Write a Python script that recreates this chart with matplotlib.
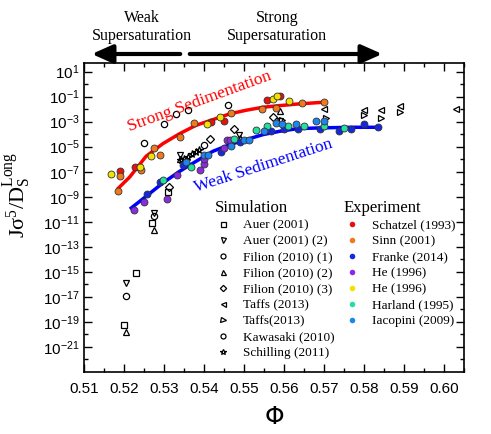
import matplotlib
matplotlib.use('Agg')
import matplotlib.pyplot as plt
import numpy as np
from matplotlib.ticker import MultipleLocator, FixedLocator, FuncFormatter, NullFormatter
from matplotlib.lines import Line2D

# ---- data: volume fraction phi and log10 of the scaled nucleation rate ----
# experiments
schatzel_phi = [0.5188, 0.5227, 0.5417, 0.5448, 0.5556, 0.5588]
schatzel_lj = [-6.97, -6.63, -3.05, -2.97, -1.24, -0.97]
sinn_phi = [0.5188, 0.5185, 0.5242, 0.5275, 0.5288, 0.5338, 0.5373, 0.5467, 0.5544, 0.5579, 0.5643, 0.5698]
sinn_lj = [-7.37, -8.57, -6.84, -5.10, -5.67, -4.25, -3.10, -2.31, -1.96, -1.90, -1.53, -1.45]
franke_phi = [0.5257, 0.5288, 0.5346, 0.5442, 0.5488, 0.5567, 0.5598, 0.5633, 0.5688, 0.5736, 0.5767, 0.5800, 0.5833]
franke_lj = [-8.76, -7.85, -6.44, -5.45, -4.65, -3.72, -3.59, -3.59, -3.59, -3.77, -3.56, -3.16, -3.45]
he_p_phi = [0.5223, 0.5250, 0.5306, 0.5331, 0.5388, 0.5398, 0.5398, 0.5448, 0.5456, 0.5463]
he_p_lj = [-10.09, -9.45, -9.19, -7.24, -6.89, -6.36, -5.99, -5.11, -4.49, -4.49]
he_y_phi = [0.5167, 0.5238, 0.5267, 0.5407, 0.5439, 0.5571, 0.5581, 0.5611]
he_y_lj = [-7.19, -6.65, -5.72, -3.21, -2.63, -1.19, -0.92, -1.35]
harland_phi = [0.5296, 0.5367, 0.5475, 0.5529, 0.5557, 0.5608, 0.5648, 0.5698, 0.5750]
harland_lj = [-7.69, -6.63, -4.36, -3.69, -3.37, -3.37, -3.37, -3.37, -3.50]
iacopini_phi = [0.5353, 0.5400, 0.5410, 0.5467, 0.5500, 0.5511, 0.5548, 0.5579, 0.5595, 0.5629, 0.5679, 0.5698]
iacopini_lj = [-6.25, -5.64, -5.64, -4.92, -4.44, -4.44, -3.77, -3.11, -3.20, -3.16, -2.97, -2.97]

# simulations
auer_phi = [0.5198, 0.5229, 0.5268, 0.5308]
auer_lj = [-19.24, -15.10, -11.10, -8.65]
auer2_phi = [0.5204, 0.5273, 0.5339, 0.5486, 0.5588]
auer2_lj = [-15.90, -10.30, -5.64, -4.05, -2.97]
filion1_phi = [0.5203, 0.5273]
filion1_lj = [-16.97, -10.50]
filion2_phi = [0.5204, 0.5274, 0.5338, 0.5488, 0.5588]
filion2_lj = [-19.77, -11.64, -5.95, -4.30, -2.17]
filion3_phi = [0.5311, 0.5413, 0.5475, 0.5571]
filion3_lj = [-8.25, -4.39, -3.56, -2.63]
taffs_l_phi = [0.5698, 0.5798, 0.5842, 0.5890, 0.6029]
taffs_l_lj = [-1.99, -2.04, -2.04, -1.77, -1.99]
taffs_r_phi = [0.5594, 0.5703, 0.5798, 0.5842, 0.5890]
taffs_r_lj = [-2.84, -2.71, -2.44, -2.71, -2.25]
kawasaki_phi = [0.5248, 0.5298, 0.5329, 0.5358, 0.5458, 0.5398]
kawasaki_lj = [-4.71, -3.19, -2.36, -2.04, -1.64, -4.84]
schilling_phi = [0.5342, 0.5350, 0.5360, 0.5370, 0.5378, 0.5386]
schilling_lj = [-6.10, -5.95, -5.80, -5.60, -5.45, -5.30]

# guide curves
strong_phi = [0.5185, 0.5213, 0.5254, 0.5296, 0.5338, 0.5379, 0.5421, 0.5463, 0.5504, 0.5546, 0.5588, 0.5633, 0.5698]
strong_lj = [-8.31, -7.43, -5.77, -4.76, -3.96, -3.29, -2.84, -2.38, -2.09, -1.85, -1.72, -1.59, -1.45]
weak_phi = [0.5217, 0.5254, 0.5296, 0.5338, 0.5379, 0.5421, 0.5463, 0.5504, 0.5546, 0.5588, 0.5633, 0.5688, 0.5771, 0.5833]
weak_lj = [-9.90, -8.97, -7.90, -6.97, -6.17, -5.37, -4.84, -4.44, -4.04, -3.77, -3.56, -3.50, -3.45, -3.45]

experiments = [
    ('Schatzel (1993)', schatzel_phi, schatzel_lj, '#e81010'),
    ('Sinn (2001)', sinn_phi, sinn_lj, '#f07a1a'),
    ('Franke (2014)', franke_phi, franke_lj, '#1428e0'),
    ('He (1996)', he_p_phi, he_p_lj, '#8a2be2'),
    ('He (1996)', he_y_phi, he_y_lj, '#f2e200'),
    ('Harland (1995)', harland_phi, harland_lj, '#22e0a0'),
    ('Iacopini (2009)', iacopini_phi, iacopini_lj, '#1c86ee'),
]
simulations = [
    ('Auer (2001)', auer_phi, auer_lj, 's'),
    ('Auer (2001) (2)', auer2_phi, auer2_lj, 'v'),
    ('Filion (2010) (1)', filion1_phi, filion1_lj, 'o'),
    ('Filion (2010) (2)', filion2_phi, filion2_lj, '^'),
    ('Filion (2010) (3)', filion3_phi, filion3_lj, 'D'),
    ('Taffs (2013)', taffs_l_phi, taffs_l_lj, '<'),
    ('Taffs(2013)', taffs_r_phi, taffs_r_lj, '>'),
    ('Kawasaki (2010)', kawasaki_phi, kawasaki_lj, 'o'),
    ('Schilling (2011)', schilling_phi, schilling_lj, '*'),
]

plt.rcParams['font.family'] = 'Liberation Sans'

fig = plt.figure(figsize=(4.91, 4.34), dpi=100)
ax = fig.add_axes([0.172, 0.143, 0.774, 0.7108])

ax.plot(strong_phi, 10.0 ** np.array(strong_lj), '-', color='#ff0000', lw=2.5, zorder=2)
ax.plot(weak_phi, 10.0 ** np.array(weak_lj), '-', color='#0000ff', lw=2.5, zorder=2)

sim_handles = []
for name, x, y, m in simulations:
    ms = 4.5 if m not in ('D', '*') else 4
    if m == '*':
        ms = 5.5
    ax.plot(x, 10.0 ** np.array(y), m, ms=ms, mfc='none', mec='black', mew=0.9, zorder=3)
    sim_handles.append(Line2D([], [], ls='none', marker=m, ms=ms * 0.8, mfc='none', mec='black', mew=0.9, label=name))

exp_handles = []
for name, x, y, c in experiments:
    ax.plot(x, 10.0 ** np.array(y), 'o', ms=5, mfc=c, mec='#333333', mew=0.6, zorder=4)
    exp_handles.append(Line2D([], [], ls='none', marker='o', ms=4, mfc=c, mec='none', label=name))

ax.set_yscale('log')
ax.set_xlim(0.51, 0.605)
ax.set_ylim(1e-23, 10 ** 1.65)

ax.xaxis.set_major_locator(MultipleLocator(0.01))
ax.xaxis.set_minor_locator(MultipleLocator(0.005))
ax.xaxis.set_major_formatter(FuncFormatter(lambda v, p: '%.2f' % v))
ax.yaxis.set_major_locator(FixedLocator([10.0 ** k for k in range(-21, 2, 2)]))
ax.yaxis.set_minor_locator(FixedLocator([10.0 ** k for k in range(-22, 2, 2)]))
ax.yaxis.set_major_formatter(FuncFormatter(lambda v, p: r'$\mathregular{10^{%d}}$' % round(np.log10(v))))
ax.yaxis.set_minor_formatter(NullFormatter())
ax.tick_params(which='both', direction='in', top=True, right=True, labelsize=11, width=1)
ax.tick_params(which='major', length=6)
ax.tick_params(which='minor', length=3)
ax.tick_params(axis='x', pad=7)
for s in ax.spines.values():
    s.set_linewidth(1.2)

ax.set_xlabel(r'$\Phi$', fontsize=18, family='Liberation Serif', labelpad=8)
ax.set_ylabel(r'$\mathregular{J\sigma^5/D_S^{Long}}$', fontsize=16, family='Liberation Serif')
ax.yaxis.set_label_coords(-0.135, 0.574)

ax.text(0.5388, 10 ** -1.4, 'Strong Sedimentation', color='red', rotation=20, fontsize=12.5,
        family='Liberation Serif', ha='center', va='center')
ax.text(0.5548, 10 ** -6.5, 'Weak Sedimentation', color='blue', rotation=18, fontsize=12.5,
        family='Liberation Serif', ha='center', va='center')

leg1 = ax.legend(handles=sim_handles, title='Simulation', loc='upper left', bbox_to_anchor=(0.33, 0.575),
                 frameon=False, prop={'family': 'Liberation Serif', 'size': 9.5}, labelspacing=0.28,
                 handletextpad=0.9, handlelength=1.2, borderaxespad=0)
leg1.get_title().set_fontsize(12)
leg1.get_title().set_family('Liberation Serif')
leg1._legend_box.align = 'left'
ax.add_artist(leg1)
leg2 = ax.legend(handles=exp_handles, title='Experiment', loc='upper left', bbox_to_anchor=(0.669, 0.575),
                 frameon=False, prop={'family': 'Liberation Serif', 'size': 9.5}, labelspacing=0.28,
                 handletextpad=0.9, handlelength=1.2, borderaxespad=0)
leg2.get_title().set_fontsize(12)
leg2.get_title().set_family('Liberation Serif')
leg2._legend_box.align = 'left'

# supersaturation arrows and captions above the plot
fig.text(142 / 491, 1 - 27 / 434, 'Weak\nSupersaturation', ha='center', va='center', fontsize=11.5,
         family='Liberation Serif', linespacing=1.1)
fig.text(277 / 491, 1 - 27 / 434, 'Strong\nSupersaturation', ha='center', va='center', fontsize=11.5,
         family='Liberation Serif', linespacing=1.1)
ya = 1 - 54 / 434
fig.add_artist(matplotlib.patches.FancyArrowPatch((183 / 491, ya), (89 / 491, ya), transform=fig.transFigure,
               arrowstyle='-|>,head_length=0.9,head_width=0.4', mutation_scale=14, lw=3, color='black'))
fig.add_artist(matplotlib.patches.FancyArrowPatch((187 / 491, ya), (385 / 491, ya), transform=fig.transFigure,
               arrowstyle='-|>,head_length=0.9,head_width=0.4', mutation_scale=14, lw=3, color='black'))

fig.savefig('out.png', dpi=100)
